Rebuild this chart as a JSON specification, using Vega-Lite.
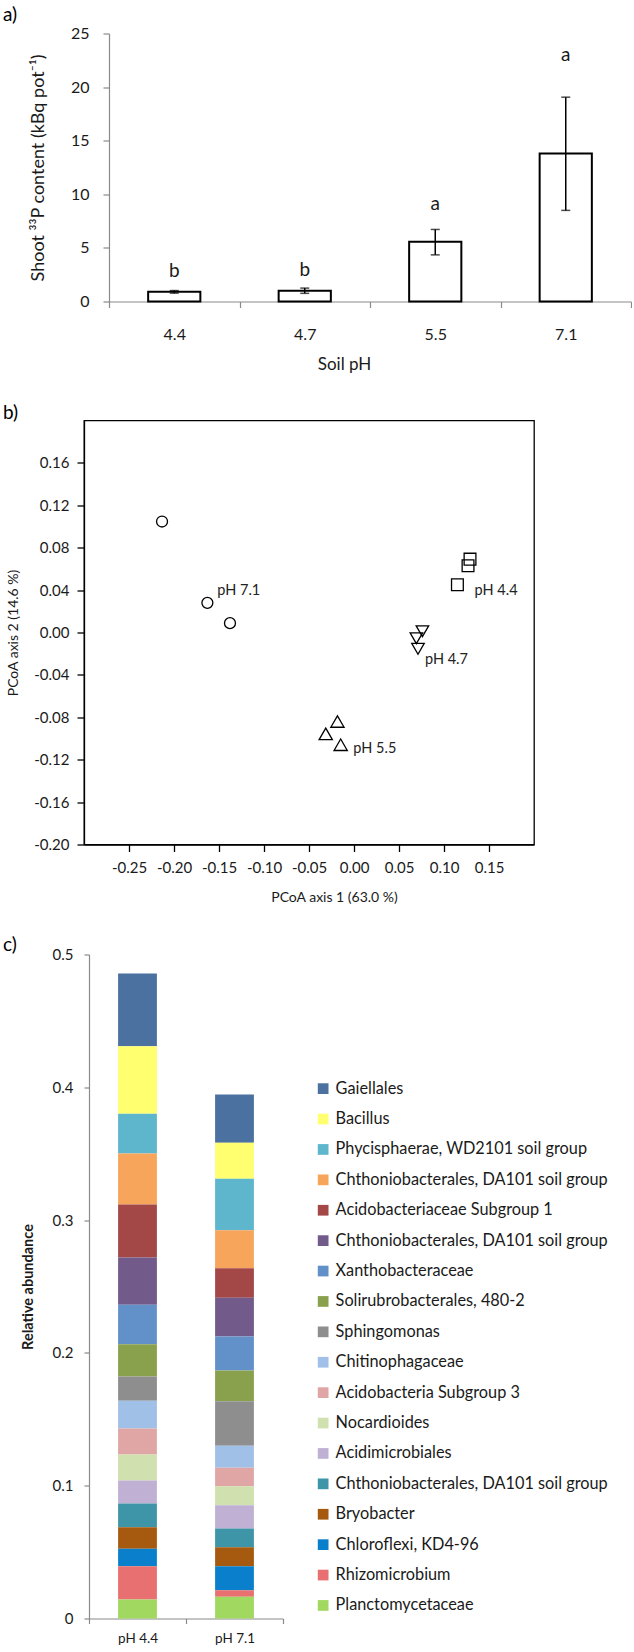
{
  "$schema": "https://vega.github.io/schema/vega-lite/v6.json",
  "background": "white",
  "padding": {"left": 2, "top": 5.5, "right": 0, "bottom": 0},
  "config": {
    "font": "Lato",
    "view": {"stroke": null},
    "axis": {"grid": false, "labelFont": "Lato", "titleFont": "Lato", "titleFontWeight": "normal", "labelColor": "#1a1a1a", "titleColor": "#1a1a1a"},
    "title": {"font": "Lato", "fontWeight": "normal", "color": "#000000", "anchor": "start", "frame": "group"}
  },
  "spacing": 30,
  "resolve": {"legend": {"color": "independent"}, "scale": {"color": "independent"}},
  "vconcat": [
    {
      "title": {"text": "a)", "fontSize": 19, "dx": -81, "offset": 0.5},
      "width": 547,
      "height": 268,
      "data": {"values": [
        {"pH": "4.4", "mean": 0.9, "low": 0.78, "high": 1.02, "letter": "b", "letter_at": 2.8},
        {"pH": "4.7", "mean": 1.0, "low": 0.76, "high": 1.25, "letter": "b", "letter_at": 2.96},
        {"pH": "5.5", "mean": 5.57, "low": 4.35, "high": 6.72, "letter": "a", "letter_at": 9.14},
        {"pH": "7.1", "mean": 13.8, "low": 8.5, "high": 19.06, "letter": "a", "letter_at": 22.95}
      ]},
      "layer": [
        {
          "mark": {"type": "bar", "fill": "white", "stroke": "black", "strokeWidth": 2, "width": {"band": 0.4}},
          "encoding": {
            "x": {"field": "pH", "type": "nominal", "title": "Soil pH",
              "scale": {"paddingInner": 0, "paddingOuter": 0, "range": [25, 547]},
              "axis": {"labelAngle": 0, "tickBand": "extent", "tickSize": 6, "labelPadding": 19, "labelFontSize": 16, "titleFontSize": 17, "titlePadding": 13.5, "titleX": 260, "domainColor": "#8a8a8a", "tickColor": "#8a8a8a", "domainWidth": 1.2, "tickWidth": 1.2}},
            "y": {"field": "mean", "type": "quantitative", "title": "Shoot ³³P content (kBq pot⁻¹)",
              "scale": {"domain": [0, 25], "nice": false},
              "axis": {"offset": -25, "values": [0, 5, 10, 15, 20, 25], "tickSize": 6, "labelPadding": 14, "labelFontSize": 16, "titleFontSize": 18, "titlePadding": 23.2, "domainColor": "#8a8a8a", "tickColor": "#8a8a8a", "domainWidth": 1.2, "tickWidth": 1.2}}
          }
        },
        {
          "mark": {"type": "rule", "color": "black", "strokeWidth": 1.5},
          "encoding": {
            "x": {"field": "pH", "type": "nominal", "title": "Soil pH"},
            "y": {"field": "low", "type": "quantitative", "title": "Shoot ³³P content (kBq pot⁻¹)"},
            "y2": {"field": "high"}
          }
        },
        {
          "mark": {"type": "tick", "color": "black", "size": 9, "thickness": 1.5},
          "encoding": {
            "x": {"field": "pH", "type": "nominal", "title": "Soil pH"},
            "y": {"field": "low", "type": "quantitative", "title": "Shoot ³³P content (kBq pot⁻¹)"}
          }
        },
        {
          "mark": {"type": "tick", "color": "black", "size": 9, "thickness": 1.5},
          "encoding": {
            "x": {"field": "pH", "type": "nominal", "title": "Soil pH"},
            "y": {"field": "high", "type": "quantitative", "title": "Shoot ³³P content (kBq pot⁻¹)"}
          }
        },
        {
          "mark": {"type": "text", "fontSize": 19, "baseline": "middle", "align": "center", "color": "#1a1a1a"},
          "encoding": {
            "x": {"field": "pH", "type": "nominal", "title": "Soil pH"},
            "y": {"field": "letter_at", "type": "quantitative", "title": "Shoot ³³P content (kBq pot⁻¹)"},
            "text": {"field": "letter"}
          }
        }
      ]
    },
    {
      "title": {"text": "b)", "fontSize": 19, "dx": -81, "offset": -2.5},
      "width": 450,
      "height": 424,
      "view": {"stroke": "black", "strokeWidth": 1.3},
      "layer": [
        {
          "data": {"values": [
            {"group": "pH 7.1", "x": -0.2133, "y": 0.1047},
            {"group": "pH 7.1", "x": -0.1629, "y": 0.0280},
            {"group": "pH 7.1", "x": -0.1378, "y": 0.0088},
            {"group": "pH 4.4", "x": 0.1149, "y": 0.0450},
            {"group": "pH 4.4", "x": 0.1267, "y": 0.0629},
            {"group": "pH 4.4", "x": 0.1289, "y": 0.0692},
            {"group": "pH 4.7", "x": 0.0760, "y": 0.0012},
            {"group": "pH 4.7", "x": 0.0693, "y": -0.0054},
            {"group": "pH 4.7", "x": 0.0711, "y": -0.0154},
            {"group": "pH 5.5", "x": -0.0184, "y": -0.0840},
            {"group": "pH 5.5", "x": -0.0314, "y": -0.0956},
            {"group": "pH 5.5", "x": -0.0148, "y": -0.1059}
          ]},
          "mark": {"type": "point", "filled": false, "color": "black", "strokeWidth": 1.3, "opacity": 1},
          "encoding": {
            "x": {"field": "x", "type": "quantitative", "title": "PCoA axis 1 (63.0 %)",
              "scale": {"domain": [-0.3, 0.2], "nice": false, "zero": false},
              "axis": {"values": [-0.25, -0.2, -0.15, -0.1, -0.05, 0, 0.05, 0.1, 0.15],
                "labelExpr": "(datum.value < -0.0001 ? '-' : '') + format(abs(datum.value), '.2f')",
                "tickSize": 7, "labelPadding": 9.25, "labelFontSize": 15, "titleFontSize": 14, "titlePadding": 14.75, "titleX": 250,
                "domainColor": "black", "tickColor": "black", "domainWidth": 1.3, "tickWidth": 1.3}},
            "y": {"field": "y", "type": "quantitative", "title": "PCoA axis  2 (14.6 %)",
              "scale": {"domain": [-0.2, 0.2], "nice": false, "zero": false},
              "axis": {"values": [-0.2, -0.16, -0.12, -0.08, -0.04, 0, 0.04, 0.08, 0.12, 0.16],
                "labelExpr": "(datum.value < -0.0001 ? '-' : '') + format(abs(datum.value), '.2f')",
                "tickSize": 7, "labelPadding": 8, "labelFontSize": 15, "titleFontSize": 14, "titlePadding": 12.9,
                "domainColor": "black", "tickColor": "black", "domainWidth": 1.3, "tickWidth": 1.3}},
            "shape": {"field": "group", "type": "nominal",
              "scale": {"domain": ["pH 7.1", "pH 4.4", "pH 4.7", "pH 5.5"], "range": ["circle", "square", "triangle-down", "triangle-up"]},
              "legend": null},
            "size": {"field": "group", "type": "nominal",
              "scale": {"domain": ["pH 7.1", "pH 4.4", "pH 4.7", "pH 5.5"], "range": [120, 175, 150, 150]},
              "legend": null}
          }
        },
        {
          "data": {"values": [
            {"label": "pH 7.1", "x": -0.1519, "y": 0.0394},
            {"label": "pH 4.4", "x": 0.1340, "y": 0.0394},
            {"label": "pH 4.7", "x": 0.0789, "y": -0.0257},
            {"label": "pH 5.5", "x": -0.0007, "y": -0.1096}
          ]},
          "mark": {"type": "text", "align": "left", "baseline": "middle", "fontSize": 14.5, "color": "#222222"},
          "encoding": {
            "x": {"field": "x", "type": "quantitative", "title": "PCoA axis 1 (63.0 %)"},
            "y": {"field": "y", "type": "quantitative", "title": "PCoA axis  2 (14.6 %)"},
            "text": {"field": "label"}
          }
        }
      ]
    },
    {
      "title": {"text": "c)", "fontSize": 19, "dx": -81, "offset": -7},
      "width": 199,
      "height": 664,
      "data": {"values": [
        {"sample": "pH 4.4", "taxon": "Gaiellales", "rank": 1, "abundance": 0.0547},
        {"sample": "pH 4.4", "taxon": "Bacillus", "rank": 2, "abundance": 0.0510},
        {"sample": "pH 4.4", "taxon": "Phycisphaerae, WD2101 soil group", "rank": 3, "abundance": 0.0298},
        {"sample": "pH 4.4", "taxon": "Chthoniobacterales, DA101 soil group#1", "rank": 4, "abundance": 0.0385},
        {"sample": "pH 4.4", "taxon": "Acidobacteriaceae Subgroup 1", "rank": 5, "abundance": 0.0399},
        {"sample": "pH 4.4", "taxon": "Chthoniobacterales, DA101 soil group#2", "rank": 6, "abundance": 0.0356},
        {"sample": "pH 4.4", "taxon": "Xanthobacteraceae", "rank": 7, "abundance": 0.0296},
        {"sample": "pH 4.4", "taxon": "Solirubrobacterales, 480-2", "rank": 8, "abundance": 0.0244},
        {"sample": "pH 4.4", "taxon": "Sphingomonas", "rank": 9, "abundance": 0.0183},
        {"sample": "pH 4.4", "taxon": "Chitinophagaceae", "rank": 10, "abundance": 0.0208},
        {"sample": "pH 4.4", "taxon": "Acidobacteria Subgroup 3", "rank": 11, "abundance": 0.0196},
        {"sample": "pH 4.4", "taxon": "Nocardioides", "rank": 12, "abundance": 0.0196},
        {"sample": "pH 4.4", "taxon": "Acidimicrobiales", "rank": 13, "abundance": 0.0173},
        {"sample": "pH 4.4", "taxon": "Chthoniobacterales, DA101 soil group#3", "rank": 14, "abundance": 0.0178},
        {"sample": "pH 4.4", "taxon": "Bryobacter", "rank": 15, "abundance": 0.0163},
        {"sample": "pH 4.4", "taxon": "Chloroflexi, KD4-96", "rank": 16, "abundance": 0.0131},
        {"sample": "pH 4.4", "taxon": "Rhizomicrobium", "rank": 17, "abundance": 0.0251},
        {"sample": "pH 4.4", "taxon": "Planctomycetaceae", "rank": 18, "abundance": 0.0143},
        {"sample": "pH 7.1", "taxon": "Gaiellales", "rank": 1, "abundance": 0.0364},
        {"sample": "pH 7.1", "taxon": "Bacillus", "rank": 2, "abundance": 0.0271},
        {"sample": "pH 7.1", "taxon": "Phycisphaerae, WD2101 soil group", "rank": 3, "abundance": 0.0387},
        {"sample": "pH 7.1", "taxon": "Chthoniobacterales, DA101 soil group#1", "rank": 4, "abundance": 0.0286},
        {"sample": "pH 7.1", "taxon": "Acidobacteriaceae Subgroup 1", "rank": 5, "abundance": 0.0223},
        {"sample": "pH 7.1", "taxon": "Chthoniobacterales, DA101 soil group#2", "rank": 6, "abundance": 0.0292},
        {"sample": "pH 7.1", "taxon": "Xanthobacteraceae", "rank": 7, "abundance": 0.0256},
        {"sample": "pH 7.1", "taxon": "Solirubrobacterales, 480-2", "rank": 8, "abundance": 0.0231},
        {"sample": "pH 7.1", "taxon": "Sphingomonas", "rank": 9, "abundance": 0.0336},
        {"sample": "pH 7.1", "taxon": "Chitinophagaceae", "rank": 10, "abundance": 0.0165},
        {"sample": "pH 7.1", "taxon": "Acidobacteria Subgroup 3", "rank": 11, "abundance": 0.0139},
        {"sample": "pH 7.1", "taxon": "Nocardioides", "rank": 12, "abundance": 0.0143},
        {"sample": "pH 7.1", "taxon": "Acidimicrobiales", "rank": 13, "abundance": 0.0175},
        {"sample": "pH 7.1", "taxon": "Chthoniobacterales, DA101 soil group#3", "rank": 14, "abundance": 0.0141},
        {"sample": "pH 7.1", "taxon": "Bryobacter", "rank": 15, "abundance": 0.0143},
        {"sample": "pH 7.1", "taxon": "Chloroflexi, KD4-96", "rank": 16, "abundance": 0.0181},
        {"sample": "pH 7.1", "taxon": "Rhizomicrobium", "rank": 17, "abundance": 0.0050},
        {"sample": "pH 7.1", "taxon": "Planctomycetaceae", "rank": 18, "abundance": 0.0163}
      ]},
      "mark": {"type": "bar", "width": {"band": 0.4}},
      "encoding": {
        "x": {"field": "sample", "type": "nominal", "title": null,
          "scale": {"paddingInner": 0, "paddingOuter": 0, "range": [5, 199]},
          "axis": {"labelAngle": 0, "tickBand": "extent", "tickSize": 5, "labelPadding": 8, "labelFontSize": 13.5, "domainColor": "#8a8a8a", "tickColor": "#8a8a8a", "domainWidth": 1.2, "tickWidth": 1.2}},
        "y": {"field": "abundance", "type": "quantitative", "aggregate": "sum", "stack": "zero", "title": "Relative abundance",
          "scale": {"domain": [0, 0.5], "nice": false},
          "axis": {"offset": -5, "values": [0, 0.1, 0.2, 0.3, 0.4, 0.5], "format": ".1~f", "tickSize": 5, "labelPadding": 11, "labelFontSize": 15, "titleFontSize": 14.5, "titleFontWeight": "bold", "titlePadding": 16.4, "domainColor": "#8a8a8a", "tickColor": "#8a8a8a", "domainWidth": 1.2, "tickWidth": 1.2}},
        "color": {"field": "taxon", "type": "nominal",
          "scale": {
            "domain": ["Gaiellales", "Bacillus", "Phycisphaerae, WD2101 soil group", "Chthoniobacterales, DA101 soil group#1", "Acidobacteriaceae Subgroup 1", "Chthoniobacterales, DA101 soil group#2", "Xanthobacteraceae", "Solirubrobacterales, 480-2", "Sphingomonas", "Chitinophagaceae", "Acidobacteria Subgroup 3", "Nocardioides", "Acidimicrobiales", "Chthoniobacterales, DA101 soil group#3", "Bryobacter", "Chloroflexi, KD4-96", "Rhizomicrobium", "Planctomycetaceae"],
            "range": ["#4A71A0", "#FFFF70", "#5DB6CC", "#F7A55A", "#A34747", "#725A8A", "#6191C8", "#89A04C", "#8E8E8E", "#A0C0E8", "#E0A5A5", "#D0E0AE", "#BFB0D4", "#3E95A8", "#A65A0F", "#0A80CC", "#E87070", "#A0D860"]
          },
          "legend": {"title": null, "orient": "none", "legendX": 231, "legendY": 126, "padding": 0,
            "symbolType": "square", "symbolSize": 115, "symbolStrokeWidth": 0, "labelOffset": 4.3,
            "labelFontSize": 16.3, "labelLimit": 400, "labelColor": "#1a1a1a", "rowPadding": 13.4,
            "labelExpr": "split(datum.label, '#')[0]"}},
        "order": {"field": "rank", "type": "quantitative", "sort": "descending"}
      }
    }
  ]
}
